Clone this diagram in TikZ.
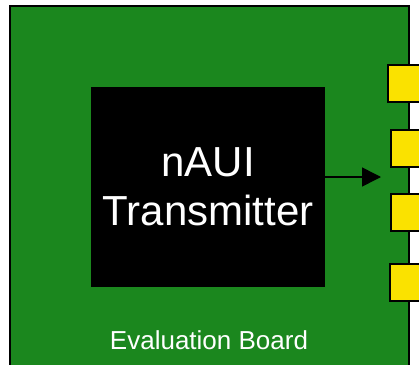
\documentclass[tikz,border=0pt]{standalone}
\usepackage{fontspec}
\setmainfont{Liberation Sans}
\usepackage{tikz}
\usetikzlibrary{arrows.meta}
\definecolor{BoardGreen}{RGB}{27,135,30}
\definecolor{PadYellow}{RGB}{250,226,0}

\begin{document}
\begin{tikzpicture}[x=1pt, y=-1pt, >={Triangle[length=19pt,width=19pt]}, board/.style={draw, line width=2pt, fill = BoardGreen, minimum width=399pt, minimum height=366pt, inner sep=0pt}, chip/.style={fill = black, text = white, align=center, minimum width=234pt, minimum height=200pt, inner sep=0pt, font = \fontsize{42}{49}\selectfont}, pad/.style={draw, line width=1.5pt, fill = PadYellow, minimum width=42pt, minimum height=37pt, inner sep=0pt, anchor=north west}, caption/.style={text = white, inner sep=0pt, anchor=base, font = \fontsize{26}{30}\selectfont}]

\useasboundingbox (0,0) rectangle (419,364);
\fill[white] (0,0) rectangle (419,364);

\node[board] (B) at (209.5,189) {};
\node[caption] (C) at (209,349) {Evaluation Board};
\node[chip] (T) at (208,187) {nAUI\\Transmitter};

\foreach \n/\x/\y in {1/387/64, 2/390/129, 3/390/193, 4/389/263}
    \node[pad] (P\n) at (\x,\y) {};

\coordinate (E) at (381,177);
\draw[->, line width=1.5pt] (T.east |- E) -- (E);
\end{tikzpicture}
\end{document}
